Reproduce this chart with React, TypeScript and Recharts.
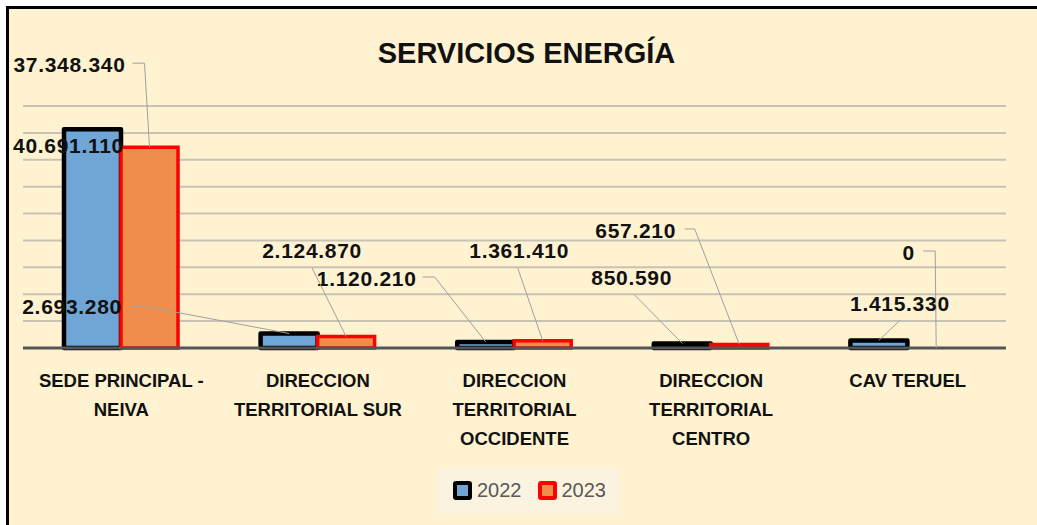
import React from 'react';
import { BarChart, Bar, XAxis, YAxis, CartesianGrid, Legend, LabelList, ReferenceDot } from 'recharts';

const categories = [
  'SEDE PRINCIPAL - NEIVA',
  'DIRECCION TERRITORIAL SUR',
  'DIRECCION TERRITORIAL OCCIDENTE',
  'DIRECCION TERRITORIAL CENTRO',
  'CAV TERUEL',
];
const values2022 = [40691110, 2693280, 1120210, 850590, 1415330];
const values2023 = [37348340, 2124870, 1361410, 657210, 0];
const seriesNames = ['2022', '2023'];
const yTicks = [0, 5000000, 10000000, 15000000, 20000000, 25000000, 30000000, 35000000, 40000000, 45000000];
const title = 'SERVICIOS ENERGÍA';

const data = categories.map((c, i) => ({ name: c, y2022: values2022[i], y2023: values2023[i] }));

// label placement relative to the top-centre of each bar (layout only)
type LL = { dx: number; dy: number; leader: number[][] };
const labelLayout2022: LL[] = [
  { dx: -24, dy: 16, leader: [] },
  { dx: -217, dy: -27.5, leader: [[-159, -27.5], [-146, -27.5], [0, 0]] },
  { dx: -119, dy: -63, leader: [[-63, -65], [-51, -65], [0, 0]] },
  { dx: -50.6, dy: -66, leader: [[-47.6, -48.4], [0, 0]] },
  { dx: 21, dy: -37, leader: [[21, -20], [0, 0]] },
];
const labelLayout2023: LL[] = [
  { dx: -80, dy: -83, leader: [[-17, -84], [-5, -84], [0, 0]] },
  { dx: -34, dy: -85.6, leader: [[-34, -68.6], [0, 0]] },
  { dx: -23.5, dy: -89.7, leader: [[-25, -72.7], [0, 0]] },
  { dx: -103.6, dy: -113.5, leader: [[-54.6, -115.5], [-44.6, -115.5], [0, 0]] },
  { dx: -27.5, dy: -96, leader: [[-13, -97], [-1, -97], [0, 0]] },
];

const FONT = '"Liberation Sans", Arial, sans-serif';
const BG = '#FFF2D0';
const BAR_SIZE = 57;

const fmt = (v: number) => String(v).replace(/\B(?=(\d{3})+(?!\d))/g, '.');

const valueLabel = (cx: number, top: number, l: LL, value: number) => {
  const pts = l.leader.map((p) => `${cx + p[0]},${top + p[1]}`).join(' ');
  return (
    <g>
      {l.leader.length > 0 && <polyline points={pts} fill="none" stroke="#a0a0a0" strokeWidth={1} />}
      <text
        x={cx + l.dx}
        y={top + l.dy}
        textAnchor="middle"
        dominantBaseline="central"
        fontFamily={FONT}
        fontWeight={700}
        fontSize={21}
        letterSpacing={0.7}
        fill="#111"
      >
        {fmt(value)}
      </text>
    </g>
  );
};

const makeLabel = (layout: LL[]) => (props: any) => {
  const vb = props.viewBox || {};
  const x = props.x ?? vb.x;
  const y = props.y ?? vb.y;
  const w = props.width ?? vb.width ?? 0;
  const h = props.height ?? vb.height ?? 0;
  const l = layout[props.index];
  if (!l || x == null || y == null) return null;
  return valueLabel(x + w / 2, Math.min(y, y + h), l, Number(props.value));
};

// zero-height bars get no LabelList entry, so their labels are drawn at the data point
const makeZeroLabel = (layout: LL[], index: number, value: number, side: number) => (props: any) => {
  const { cx, cy } = props;
  if (cx == null || cy == null) return <g />;
  return valueLabel(cx + (side * BAR_SIZE) / 2, cy, layout[index], value);
};

const wrap = (s: string, max: number) => {
  const words = s.split(' ');
  const lines: string[] = [];
  let cur = '';
  words.forEach((w) => {
    const t = cur ? cur + ' ' + w : w;
    if (t.length > max && cur) {
      lines.push(cur);
      cur = w;
    } else cur = t;
  });
  if (cur) lines.push(cur);
  return lines;
};

const CategoryTick = (props: any) => {
  const { x, y, payload } = props;
  const lines = wrap(payload.value, 16);
  return (
    <text x={x} y={y} textAnchor="middle" fontFamily={FONT} fontWeight={700} fontSize={18.5} fill="#111">
      {lines.map((l, i) => (
        <tspan key={i} x={x} dy={i === 0 ? 38.5 : 29}>
          {l}
        </tspan>
      ))}
    </text>
  );
};

const legendStyles = [
  { fill: '#6FA6D6', stroke: '#000000' },
  { fill: '#F08D4B', stroke: '#FF0000' },
];

const renderLegend = () => (
  <div
    style={{
      width: 180,
      height: 45,
      background: '#FBF3E0',
      display: 'flex',
      alignItems: 'center',
      paddingLeft: 15,
      boxSizing: 'border-box',
      fontFamily: FONT,
      fontSize: 20,
      color: '#595959',
    }}
  >
    {seriesNames.map((n, i) => (
      <span key={n} style={{ display: 'flex', alignItems: 'center', marginRight: i === 0 ? 16 : 0 }}>
        <span
          style={{
            width: 19,
            height: 19,
            boxSizing: 'border-box',
            border: `4px solid ${legendStyles[i].stroke}`,
            background: legendStyles[i].fill,
            borderRadius: 3,
            marginRight: 5,
            display: 'inline-block',
          }}
        />
        {n}
      </span>
    ))}
  </div>
);

export default function App() {
  return (
    <div style={{ position: 'absolute', left: 0, top: 0, width: 1037, height: 525, background: '#fff', overflow: 'hidden' }}>
      <div
        style={{
          position: 'absolute',
          left: 6,
          top: 6,
          width: 1031,
          height: 519,
          background: BG,
          borderTop: '3px solid #000',
          borderLeft: '3px solid #000',
          boxSizing: 'border-box',
        }}
      />
      <div style={{ position: 'absolute', left: 0, top: 0 }}>
        <BarChart
          width={1037}
          height={525}
          data={data}
          margin={{ top: 106, right: 31, left: 23, bottom: 0 }}
          barGap={0}
          barSize={BAR_SIZE}
        >
          <CartesianGrid horizontal vertical={false} stroke="#c8c2b4" strokeWidth={2} />
          <YAxis hide domain={[0, 45000000]} ticks={yTicks} />
          <XAxis
            dataKey="name"
            height={177}
            tickLine={false}
            tickSize={0}
            tickMargin={0}
            interval={0}
            axisLine={{ stroke: '#555555', strokeWidth: 3 }}
            tick={<CategoryTick />}
          />
          <Legend
            layout="horizontal"
            verticalAlign="middle"
            align="center"
            content={renderLegend}
            wrapperStyle={{ left: 438, top: 468, width: 180, height: 45 }}
          />
          <Bar
            dataKey="y2022"
            name={seriesNames[0]}
            fill="#6FA6D6"
            stroke="#000000"
            strokeWidth={4.5}
            strokeLinejoin="round"
            isAnimationActive={false}
          >
            <LabelList dataKey="y2022" content={makeLabel(labelLayout2022)} />
          </Bar>
          <Bar
            dataKey="y2023"
            name={seriesNames[1]}
            fill="#F08D4B"
            stroke="#FF0000"
            strokeWidth={3.5}
            isAnimationActive={false}
          >
            <LabelList dataKey="y2023" content={makeLabel(labelLayout2023)} />
          </Bar>
          {values2022.map((v, i) =>
            v === 0 ? (
              <ReferenceDot key={`z22-${i}`} x={categories[i]} y={0} r={0} shape={makeZeroLabel(labelLayout2022, i, v, -1)} />
            ) : null
          )}
          {values2023.map((v, i) =>
            v === 0 ? (
              <ReferenceDot key={`z23-${i}`} x={categories[i]} y={0} r={0} shape={makeZeroLabel(labelLayout2023, i, v, 1)} />
            ) : null
          )}
        </BarChart>
      </div>
      <svg style={{ position: 'absolute', left: 0, top: 0, pointerEvents: 'none' }} width={1037} height={525}>
        <text x={526.5} y={63} textAnchor="middle" fontFamily={FONT} fontWeight={700} fontSize={29} fill="#111">
          {title}
        </text>
      </svg>
    </div>
  );
}
